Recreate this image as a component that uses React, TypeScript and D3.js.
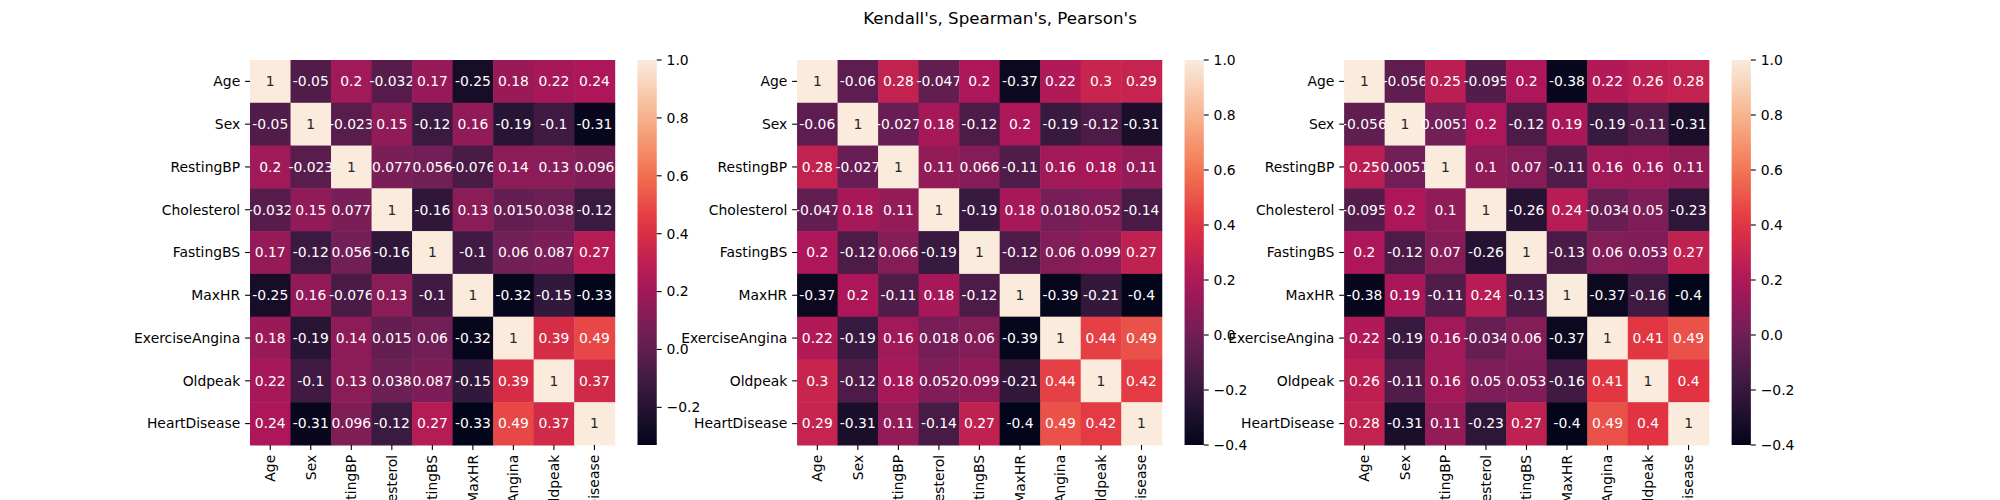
import React from "react";
import * as d3 from "d3";

const labels = ["Age","Sex","RestingBP","Cholesterol","FastingBS","MaxHR","ExerciseAngina","Oldpeak","HeartDisease"];
const kendall = [
  [1,-0.05,0.2,-0.032,0.17,-0.25,0.18,0.22,0.24],
  [-0.05,1,-0.023,0.15,-0.12,0.16,-0.19,-0.1,-0.31],
  [0.2,-0.023,1,0.077,0.056,-0.076,0.14,0.13,0.096],
  [-0.032,0.15,0.077,1,-0.16,0.13,0.015,0.038,-0.12],
  [0.17,-0.12,0.056,-0.16,1,-0.1,0.06,0.087,0.27],
  [-0.25,0.16,-0.076,0.13,-0.1,1,-0.32,-0.15,-0.33],
  [0.18,-0.19,0.14,0.015,0.06,-0.32,1,0.39,0.49],
  [0.22,-0.1,0.13,0.038,0.087,-0.15,0.39,1,0.37],
  [0.24,-0.31,0.096,-0.12,0.27,-0.33,0.49,0.37,1],
];
const spearman = [
  [1,-0.06,0.28,-0.047,0.2,-0.37,0.22,0.3,0.29],
  [-0.06,1,-0.027,0.18,-0.12,0.2,-0.19,-0.12,-0.31],
  [0.28,-0.027,1,0.11,0.066,-0.11,0.16,0.18,0.11],
  [-0.047,0.18,0.11,1,-0.19,0.18,0.018,0.052,-0.14],
  [0.2,-0.12,0.066,-0.19,1,-0.12,0.06,0.099,0.27],
  [-0.37,0.2,-0.11,0.18,-0.12,1,-0.39,-0.21,-0.4],
  [0.22,-0.19,0.16,0.018,0.06,-0.39,1,0.44,0.49],
  [0.3,-0.12,0.18,0.052,0.099,-0.21,0.44,1,0.42],
  [0.29,-0.31,0.11,-0.14,0.27,-0.4,0.49,0.42,1],
];
const pearson = [
  [1,-0.056,0.25,-0.095,0.2,-0.38,0.22,0.26,0.28],
  [-0.056,1,0.0051,0.2,-0.12,0.19,-0.19,-0.11,-0.31],
  [0.25,0.0051,1,0.1,0.07,-0.11,0.16,0.16,0.11],
  [-0.095,0.2,0.1,1,-0.26,0.24,-0.034,0.05,-0.23],
  [0.2,-0.12,0.07,-0.26,1,-0.13,0.06,0.053,0.27],
  [-0.38,0.19,-0.11,0.24,-0.13,1,-0.37,-0.16,-0.4],
  [0.22,-0.19,0.16,-0.034,0.06,-0.37,1,0.41,0.49],
  [0.26,-0.11,0.16,0.05,0.053,-0.16,0.41,1,0.4],
  [0.28,-0.31,0.11,-0.23,0.27,-0.4,0.49,0.4,1],
];
const matrices = [kendall, spearman, pearson];
const title = "Kendall's, Spearman's, Pearson's";
const rocketStops = ["#03051a","#35193e","#701f57","#ad1759","#e13342","#f37651","#f6b48f","#faebdd"];

const FONT = "DejaVu Sans, sans-serif";
const W = 2000, H = 500;
const top = 60, bottom = 445;
const axW = 1550 / 3.4, gap = axW * 0.2;

function lum(c: string) {
  const r = d3.rgb(c);
  const f = (v: number) => { v /= 255; return v <= 0.03928 ? v / 12.92 : Math.pow((v + 0.055) / 1.055, 2.4); };
  return 0.2126 * f(r.r) + 0.7152 * f(r.g) + 0.0722 * f(r.b);
}

function Heat({ m, left, idx }: { m: number[][]; left: number; idx: number }) {
  const hmW = axW * 0.8;
  const vmin = d3.min(m.flat())!;
  const vmax = 1;
  const interp = d3.interpolateRgbBasis ? d3.piecewise(d3.interpolateRgb, rocketStops) : null;
  const color = (v: number) => interp!((v - vmin) / (vmax - vmin));
  const x = d3.scaleBand<string>().domain(labels).range([left, left + hmW]);
  const y = d3.scaleBand<string>().domain(labels).range([top, bottom]);
  const cbX = left + hmW + axW * 0.05;
  const cbW = (bottom - top) / 20;
  const cy = d3.scaleLinear().domain([vmin, vmax]).range([bottom, top]);
  const ticks = d3.range(-10, 11).map(i => i * 0.2).filter(t => t >= vmin - 1e-9 && t <= vmax + 1e-9);
  const gradId = "grad" + idx;
  return (
    <g>
      <defs>
        <linearGradient id={gradId} x1="0" y1="1" x2="0" y2="0">
          {d3.range(0, 1.0001, 0.05).map(t => <stop key={t} offset={t} stopColor={interp!(t)} />)}
        </linearGradient>
      </defs>
      {m.map((row, i) => row.map((v, j) => {
        const c = color(v);
        return (
          <g key={i + "-" + j}>
            <rect x={x(labels[j])!} y={y(labels[i])!} width={x.bandwidth() + 0.5} height={y.bandwidth() + 0.5} fill={c} />
            <text x={x(labels[j])! + x.bandwidth() / 2} y={y(labels[i])! + y.bandwidth() / 2} dy="0.35em" textAnchor="middle"
              fontSize={13.9} fontFamily={FONT} fill={lum(c) > 0.408 ? "#262626" : "#ffffff"}>{String(v)}</text>
          </g>
        );
      }))}
      {labels.map(l => (
        <g key={"y" + l}>
          <line x1={left - 4.9} x2={left} y1={y(l)! + y.bandwidth() / 2} y2={y(l)! + y.bandwidth() / 2} stroke="#000" strokeWidth={1.1} />
          <text x={left - 9.8} y={y(l)! + y.bandwidth() / 2} dy="0.35em" textAnchor="end" fontSize={13.9} fontFamily={FONT}>{l}</text>
          <line x1={x(l)! + x.bandwidth() / 2} x2={x(l)! + x.bandwidth() / 2} y1={bottom} y2={bottom + 4.9} stroke="#000" strokeWidth={1.1} />
          <text transform={`translate(${x(l)! + x.bandwidth() / 2},${bottom + 9.8}) rotate(-90)`} dy="0.35em" textAnchor="end" fontSize={13.9} fontFamily={FONT}>{l}</text>
        </g>
      ))}
      <rect x={cbX} y={top} width={cbW} height={bottom - top} fill={`url(#${gradId})`} />
      {ticks.map(t => (
        <g key={"c" + t}>
          <line x1={cbX + cbW} x2={cbX + cbW + 4.9} y1={cy(t)} y2={cy(t)} stroke="#000" strokeWidth={1.1} />
          <text x={cbX + cbW + 9.8} y={cy(t)} dy="0.35em" fontSize={13.9} fontFamily={FONT}>{(t < -1e-9 ? "\u2212" : "") + Math.abs(t).toFixed(1)}</text>
        </g>
      ))}
    </g>
  );
}

export default function App() {
  return (
    <svg width={W} height={H} style={{ position: "absolute", left: 0, top: 0, background: "#fff" }}>
      <rect width={W} height={H} fill="#fff" />
      {matrices.map((m, i) => <Heat key={i} m={m} idx={i} left={250 + i * (axW + gap)} />)}
      <text x={1000} y={18} dy="0.35em" textAnchor="middle" fontSize={16.7} fontFamily={FONT}>{title}</text>
    </svg>
  );
}
